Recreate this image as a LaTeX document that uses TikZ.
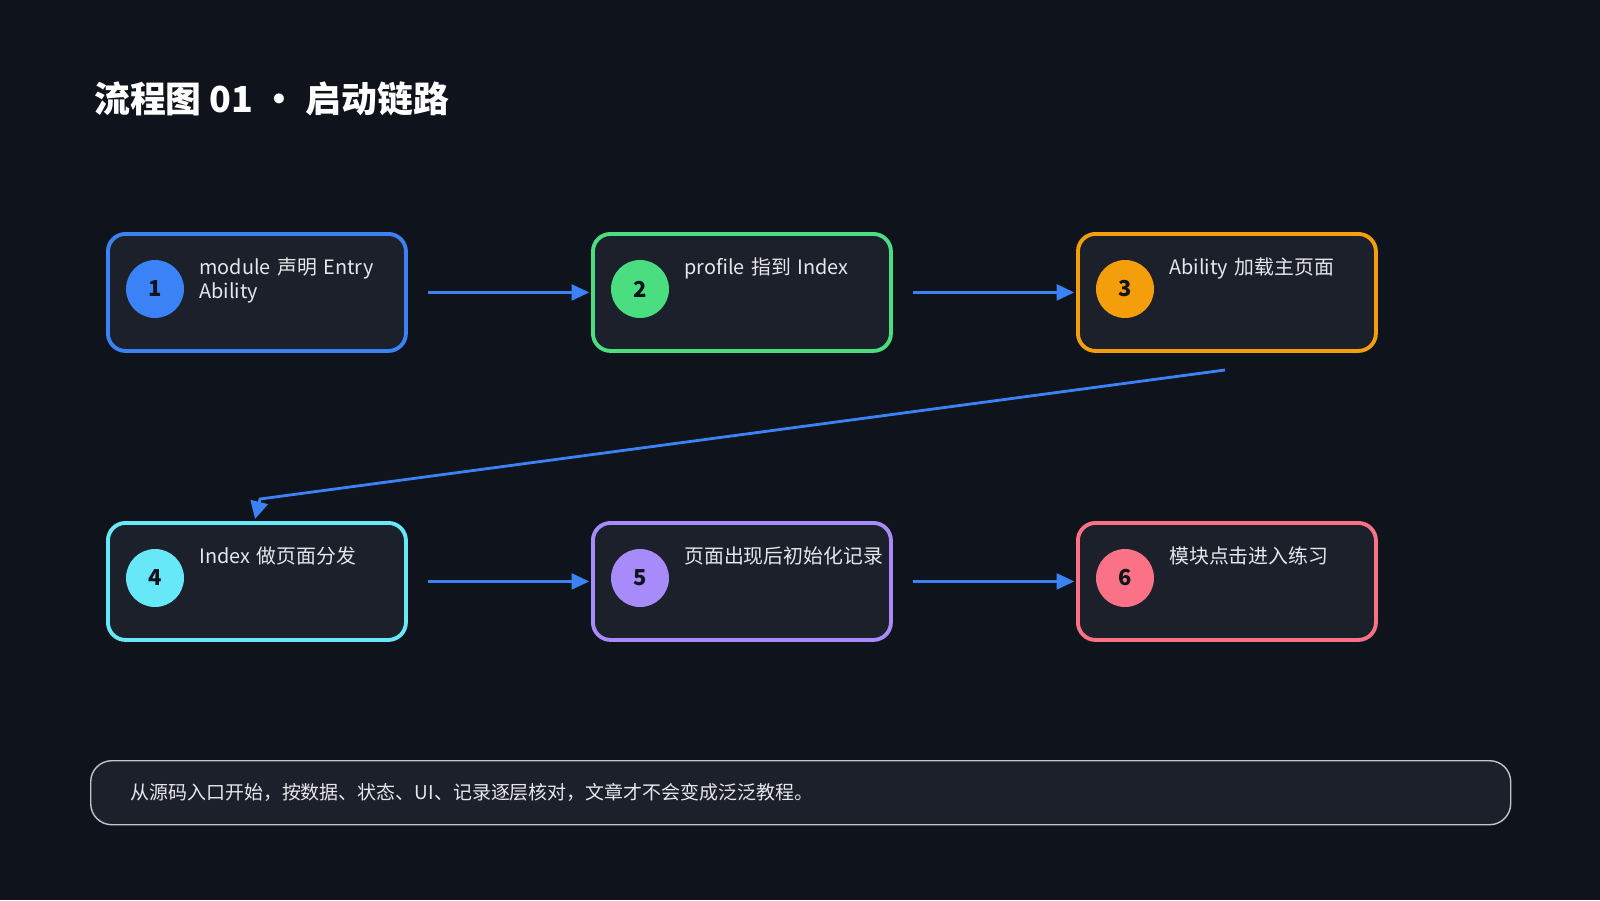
\documentclass[tikz,border=0pt]{standalone}
\usepackage{fontspec}
\setmainfont{Noto Sans CJK SC}
\usetikzlibrary{arrows.meta}
\definecolor{bg}{HTML}{0F131C}
\definecolor{boxf}{HTML}{1C202B}
\definecolor{cb}{HTML}{3B82F6}
\definecolor{cg}{HTML}{4ADE80}
\definecolor{co}{HTML}{F59E0B}
\definecolor{cc}{HTML}{67E8F9}
\definecolor{cp}{HTML}{A78BFA}
\definecolor{cr}{HTML}{FB7185}
\definecolor{txt}{HTML}{E5E7EB}
\begin{document}
\begin{tikzpicture}[x=0.02cm,y=-0.02cm,
  box/.style={draw=#1,line width=2.2pt,fill=boxf,rounded corners=10pt,minimum width=298*0.02cm,minimum height=117*0.02cm,anchor=north west},
  num/.style={circle,fill=#1,minimum size=58*0.02cm,inner sep=0pt,font=\fontsize{12.5}{14}\selectfont\bfseries,text=bg},
  lab/.style={anchor=north west,text width=3.6cm,align=left,font=\fontsize{11.3}{14}\selectfont,text=txt,inner sep=0pt},
  arr/.style={draw=cb,line width=1.6pt,-{Triangle[length=10pt,width=9pt]}}]
\fill[bg] (0,0) rectangle (1600,900);
\node[anchor=west,text=white,font=\fontsize{20.4}{24}\selectfont\bfseries] (title) at (88,99) {流程图 01 • 启动链路};
\foreach \n/\x/\y/\c/\t in {1/106/232/cb/{module 声明 Entry Ability},2/591/232/cg/{profile 指到 Index},3/1076/232/co/{Ability 加载主页面},4/106/521/cc/{Index 做页面分发},5/591/521/cp/{页面出现后初始化记录},6/1076/521/cr/{模块点击进入练习}}{
  \node[box=\c] (b\n) at (\x,\y) {};
  \node[num=\c] (n\n) at (\x+49,\y+57) {\n};
  \node[lab] (t\n) at (\x+93,\y+25) {\t};
}
\coordinate (a12) at (424,291); \coordinate (a12e) at (590,291);
\draw[arr] (b1.east)++(20,0) coordinate (s1) -- ([xshift=-1]b2.west);
\draw[arr] (b2.east)++(20,0) coordinate (s2) -- ([xshift=-1]b3.west);
\draw[arr] (b4.east)++(20,0) coordinate (s4) -- ([xshift=-1]b5.west);
\draw[arr] (b5.east)++(20,0) coordinate (s5) -- ([xshift=-1]b6.west);
\coordinate (d1) at (1225,370);
\coordinate (d2) at (255,519);
\draw[arr,-{Triangle[length=10pt,width=10pt]}] (d1) -- (260,499) -- (d2);
\node[draw=white!75!bg,line width=0.8pt,fill=boxf,rounded corners=12pt,minimum width=1420*0.02cm,minimum height=64*0.02cm,anchor=north west] (note) at (90,760) {};
\node[anchor=west,text=txt,font=\fontsize{10.8}{13}\selectfont] (nt) at (124,792) {从源码入口开始，按数据、状态、UI、记录逐层核对，文章才不会变成泛泛教程。};
\end{tikzpicture}
\end{document}
